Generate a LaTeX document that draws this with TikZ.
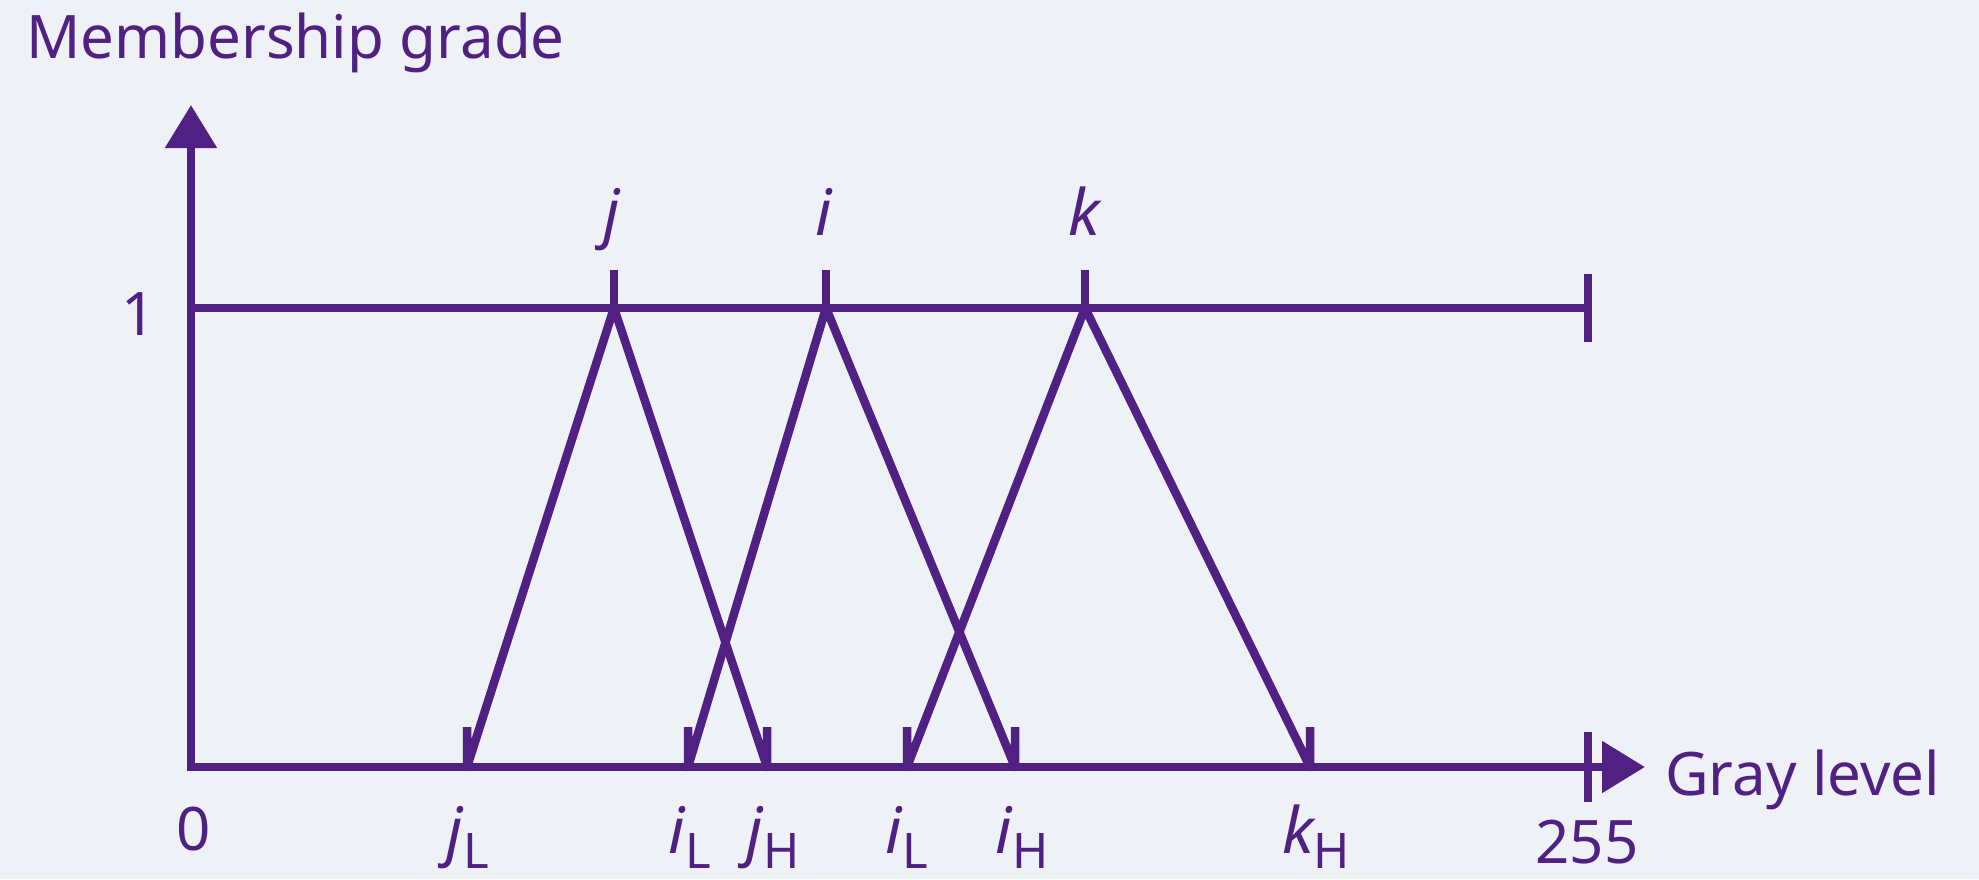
\documentclass[tikz,border=0pt]{standalone}
\usepackage{fontspec}
\setmainfont{Noto Sans}
\usetikzlibrary{arrows.meta}
\definecolor{ink}{RGB}{80,32,130}
\definecolor{bg}{RGB}{238,241,245}
\newcommand\lbsub[1]{\raisebox{-15pt}{\fontsize{49}{52}\selectfont\upshape #1}}
\tikzset{tri/.tip={Triangle[length=43pt,width=50pt]}}
\begin{document}
\begin{tikzpicture}[x=1pt,y=-1pt,
  line/.style={draw=ink,line width=8.5pt,line join=round},
  lbl/.style={text=ink,font=\fontsize{60}{66}\selectfont,inner sep=0pt},
  ilbl/.style={lbl,font=\fontsize{64}{70}\selectfont\itshape}]
\fill[bg] (0,0) rectangle (1979,879);
\useasboundingbox (0,0) rectangle (1979,879);
% axes
\coordinate (O) at (191,767);
\coordinate (ytip) at (191,105);
\coordinate (xtip) at (1645,767);
\coordinate (one) at (191,308);
\coordinate (oneend) at (1588,308);
\coordinate (xend) at (1588,767);
\draw[line,tri-tri,line join=miter] (ytip) -- (O) -- (xtip);
\draw[line] (one) -- (oneend);
\draw[line] ([yshift=34pt]oneend) -- ([yshift=-34pt]oneend);
\draw[line] ([yshift=35pt]xend) -- ([yshift=-35pt]xend);
% membership functions
\coordinate (jL) at (467,767); \coordinate (jP) at (614,308); \coordinate (jH) at (767,767);
\coordinate (iL) at (688,767); \coordinate (iP) at (826,308); \coordinate (iH) at (1015,767);
\coordinate (kL) at (907,767); \coordinate (kP) at (1085,308); \coordinate (kH) at (1310,767);
\foreach \a/\p/\b in {jL/jP/jH, iL/iP/iH, kL/kP/kH}{
  \draw[line] ([yshift=40pt]\a) -- (\a) -- (\p) -- (\b) -- ([yshift=40pt]\b);
  \draw[line] (\p) -- ([yshift=38pt]\p);
}
% labels
\node[lbl,anchor=base west] (title) at (26,58) {Membership grade};
\node[lbl,anchor=base] (l1) at (139,335) {1};
\node[lbl,anchor=base] (l0) at (194,850) {0};
\node[lbl,anchor=base] (l255) at (1587,863) {255};
\node[lbl,anchor=base west] (gray) at (1665,795) {Gray level};
\node[ilbl,anchor=base] (tj) at (612,235) {j};
\node[ilbl,anchor=base] (ti) at (824,235) {i};
\node[ilbl,anchor=base] (tk) at (1084,235) {k};
\node[ilbl,anchor=base] (bjL) at (468,853) {j\lbsub{L}};
\node[ilbl,anchor=base] (biL) at (690,853) {i\lbsub{L}};
\node[ilbl,anchor=base] (bjH) at (773,853) {j\lbsub{H}};
\node[ilbl,anchor=base] (biL2) at (907,853) {i\lbsub{L}};
\node[ilbl,anchor=base] (biH) at (1022,853) {i\lbsub{H}};
\node[ilbl,anchor=base] (bkH) at (1316,853) {k\lbsub{H}};
\end{tikzpicture}
\end{document}
